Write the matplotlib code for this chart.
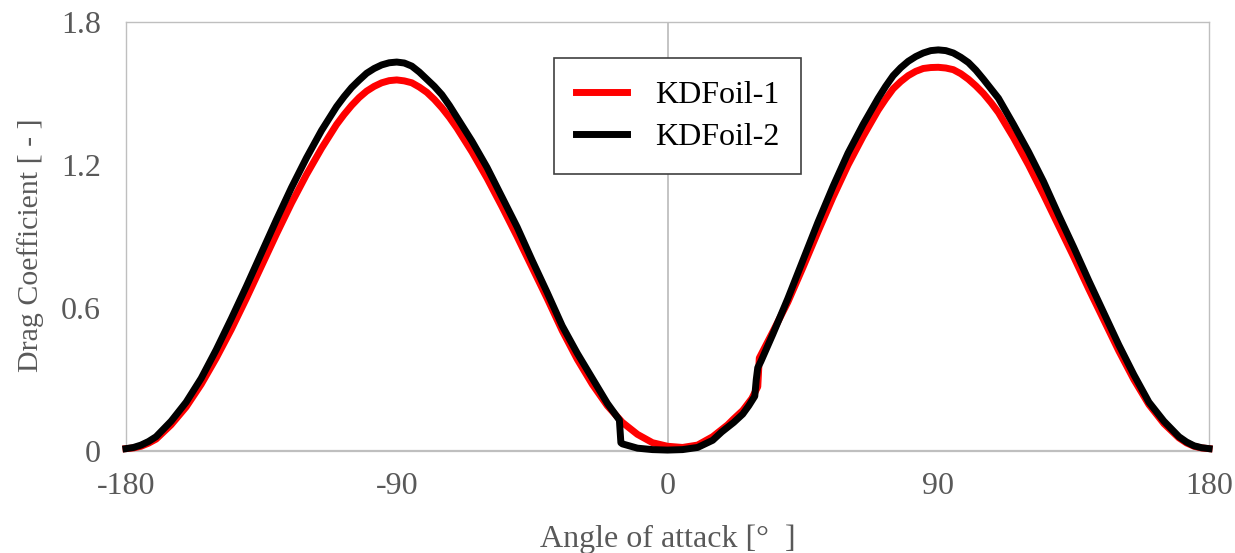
import matplotlib
matplotlib.use("Agg")
import matplotlib.pyplot as plt

# KDFoil-1: angle of attack [deg] and drag coefficient
angle_1 = [-180, -177.5, -175, -172.5, -170, -165, -160, -155, -150, -145, -140,
           -135, -130, -125, -120, -115, -110, -107.5, -105, -102.5, -100, -97.5,
           -95, -92.5, -90, -87.5, -85, -82.5, -80, -77.5, -75, -72.5, -70, -65,
           -60, -55, -50, -45, -40, -35, -30, -25, -20, -15, -10, -5, 0, 5, 10,
           15, 20, 22, 25, 28, 30, 30.5, 35, 40, 45, 50, 55, 60, 65, 70, 72.5,
           75, 77.5, 80, 82.5, 85, 87.5, 90, 92.5, 95, 97.5, 100, 102.5, 105,
           107.5, 110, 115, 120, 125, 130, 135, 140, 145, 150, 155, 160, 165,
           170, 172.5, 175, 177.5, 180]
cd_1 = [0.01, 0.013, 0.02, 0.033, 0.05, 0.11, 0.185, 0.28, 0.39, 0.51, 0.64,
        0.775, 0.91, 1.04, 1.16, 1.27, 1.37, 1.412, 1.45, 1.483, 1.51, 1.53,
        1.545, 1.554, 1.557, 1.553, 1.545, 1.527, 1.505, 1.475, 1.44, 1.40,
        1.355, 1.255, 1.145, 1.025, 0.90, 0.77, 0.64, 0.505, 0.385, 0.28, 0.19,
        0.12, 0.07, 0.035, 0.02, 0.015, 0.025, 0.06, 0.11, 0.135, 0.17, 0.22,
        0.27, 0.39, 0.50, 0.625, 0.77, 0.92, 1.065, 1.20, 1.32, 1.43, 1.477,
        1.52, 1.55, 1.575, 1.593, 1.605, 1.609, 1.61, 1.607, 1.60, 1.583, 1.56,
        1.532, 1.50, 1.462, 1.42, 1.315, 1.20, 1.075, 0.945, 0.815, 0.68, 0.55,
        0.42, 0.30, 0.195, 0.115, 0.055, 0.034, 0.02, 0.013, 0.01]

# KDFoil-2
angle_2 = [-180, -177.5, -175, -172.5, -170, -165, -160, -155, -150, -145, -140,
           -135, -130, -125, -120, -115, -110, -107.5, -105, -102.5, -100, -97.5,
           -95, -92.5, -90, -87.5, -85, -82.5, -80, -77.5, -75, -72.5, -70, -65,
           -60, -55, -50, -45, -40, -35, -30, -25, -20, -16, -15.5, -15, -10, -5,
           0, 5, 10, 15, 18, 20, 22, 25, 27, 29, 29.5, 30, 31, 35, 40, 45, 50,
           55, 60, 65, 70, 72.5, 75, 77.5, 80, 82.5, 85, 87.5, 90, 92.5, 95,
           97.5, 100, 102.5, 105, 107.5, 110, 115, 120, 125, 130, 135, 140, 145,
           150, 155, 160, 165, 170, 172.5, 175, 177.5, 180]
cd_2 = [0.01, 0.015, 0.025, 0.04, 0.06, 0.125, 0.205, 0.305, 0.425, 0.555, 0.69,
        0.83, 0.97, 1.105, 1.23, 1.345, 1.445, 1.487, 1.525, 1.556, 1.585, 1.605,
        1.62, 1.629, 1.632, 1.628, 1.615, 1.59, 1.56, 1.53, 1.495, 1.45, 1.40,
        1.30, 1.19, 1.065, 0.94, 0.80, 0.665, 0.525, 0.41, 0.305, 0.20, 0.13,
        0.035, 0.03, 0.012, 0.006, 0.004, 0.006, 0.015, 0.045, 0.08, 0.10, 0.12,
        0.155, 0.19, 0.23, 0.30, 0.35, 0.375, 0.49, 0.64, 0.80, 0.96, 1.11,
        1.25, 1.37, 1.48, 1.53, 1.575, 1.608, 1.635, 1.655, 1.67, 1.68, 1.683,
        1.68, 1.67, 1.652, 1.63, 1.598, 1.56, 1.52, 1.48, 1.37, 1.255, 1.13,
        0.99, 0.855, 0.715, 0.58, 0.445, 0.32, 0.205, 0.125, 0.06, 0.038, 0.022,
        0.014, 0.01]

x_ticks = [-180, -90, 0, 90, 180]
y_ticks = [0, 0.6, 1.2, 1.8]

plt.rcParams['font.family'] = ['Liberation Serif', 'DejaVu Serif']

fig = plt.figure(figsize=(12.35, 5.53), dpi=100)
ax = fig.add_axes([0.102, 0.1844, 0.877, 0.7758])

gray = '#BFBFBF'
text_gray = '#595959'

ax.axvline(0, color=gray, lw=1.3, zorder=1)
ax.plot(angle_1, cd_1, color='#FF0000', lw=5, label='KDFoil-1',
        solid_joinstyle='round', clip_on=False, zorder=3)
ax.plot(angle_2, cd_2, color='black', lw=5, label='KDFoil-2',
        solid_joinstyle='round', clip_on=False, zorder=4)

ax.set_xlim(-180, 180)
ax.set_ylim(0, 1.8)
ax.set_xticks(x_ticks)
ax.set_yticks(y_ticks)
ax.set_xticklabels([str(t) for t in x_ticks])
ax.set_yticklabels(['0', '0.6', '1.2', '1.8'])
ax.tick_params(length=0, labelsize=23, labelcolor=text_gray)
ax.tick_params(axis='x', pad=15)
ax.tick_params(axis='y', pad=18)

for side in ['top', 'right', 'left']:
    ax.spines[side].set_color(gray)
    ax.spines[side].set_linewidth(1.0)
ax.spines['bottom'].set_color(gray)
ax.spines['bottom'].set_linewidth(1.6)

ax.set_xlabel('Angle of attack [°  ]', fontsize=23, color=text_gray, labelpad=17)
ax.set_ylabel('Drag Coefficient [ - ]', fontsize=21.5, color=text_gray)
ax.yaxis.set_label_coords(-0.0757, 0.479)

leg = ax.legend(loc='upper left', bbox_to_anchor=(554 / 1235, 1 - 58 / 553),
                bbox_transform=fig.transFigure, fontsize=23, frameon=True,
                fancybox=False, framealpha=1, edgecolor='#404040',
                handlelength=1.6, handletextpad=0.85, labelspacing=0.4,
                borderpad=0.7, borderaxespad=0)
leg.get_frame().set_linewidth(1.2)

fig.savefig('out.png', dpi=100)
